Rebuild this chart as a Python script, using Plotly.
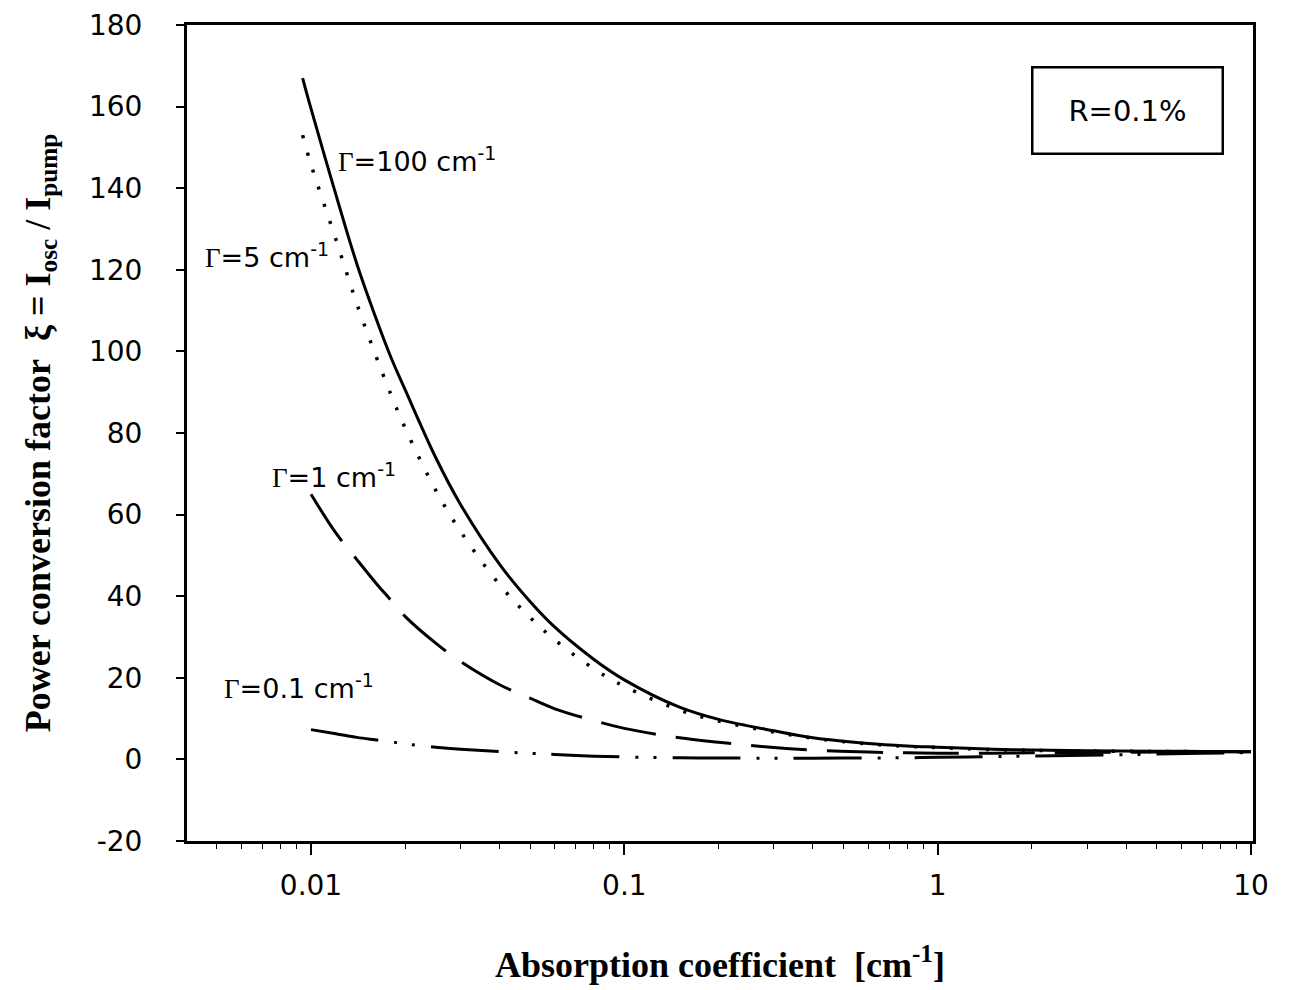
import math
import plotly.graph_objects as go

# ---- data ----
x_hi = [0.0094, 0.01, 0.012, 0.014, 0.016, 0.018, 0.02, 0.025, 0.03, 0.04, 0.05, 0.06, 0.08,
        0.1, 0.15, 0.2, 0.3, 0.4, 0.6, 0.8, 1, 1.5, 2, 3, 5, 7, 10]
gamma100 = [167, 159.5, 138.5, 121.5, 108.8, 98.5, 90.5, 74, 62.5, 47.8, 38.7, 32.4, 24.5,
            19.5, 12.8, 9.8, 7.0, 5.3, 3.9, 3.3, 3.0, 2.5, 2.3, 2.1, 2.0, 1.95, 1.9]
gamma5 = [153, 145.8, 127.5, 111.7, 99.5, 89.4, 81.1, 66.0, 55.9, 42.8, 34.8, 29.3, 22.2,
          17.9, 12.1, 9.4, 6.7, 5.2, 3.8, 3.2, 2.9, 2.4, 2.2, 2.05, 1.95, 1.9, 1.9]

x_lo = [0.01, 0.012, 0.014, 0.016, 0.018, 0.02, 0.025, 0.03, 0.04, 0.05, 0.06, 0.08,
        0.1, 0.15, 0.2, 0.3, 0.4, 0.6, 0.8, 1, 1.5, 2, 3, 5, 7, 10]
gamma1 = [65, 55.5, 49, 43.5, 39, 35, 28.5, 24, 18.3, 15, 12.4, 9.5,
          7.6, 5.3, 4.2, 2.9, 2.3, 1.8, 1.6, 1.5, 1.5, 1.6, 1.7, 1.8, 1.85, 1.9]
gamma01 = [7.3, 6.3, 5.4, 4.8, 4.3, 3.8, 3.0, 2.5, 1.9, 1.5, 1.2, 0.8,
           0.6, 0.4, 0.35, 0.3, 0.3, 0.35, 0.4, 0.5, 0.7, 0.8, 1.0, 1.3, 1.5, 1.7]

x_ticks = [0.01, 0.1, 1, 10]
x_ticklabels = ["0.01", "0.1", "1", "10"]
y_ticks = list(range(-20, 181, 20))
y_ticklabels = [str(v) for v in y_ticks]

G = '<span style="font-family:\'Liberation Serif\'">Γ</span>'
labels = [
    (G + "=100 cm<sup>-1</sup>", 0.012, 147),
    (G + "=5 cm<sup>-1</sup>", 0.00452, 123.6),
    (G + "=1 cm<sup>-1</sup>", 0.0074, 69.5),
    (G + "=0.1 cm<sup>-1</sup>", 0.00519, 17.8),
]

fig = go.Figure()
fig.add_trace(go.Scatter(x=x_hi, y=gamma100, mode="lines",
                         line=dict(color="black", width=3, shape="spline")))
fig.add_trace(go.Scatter(x=x_hi, y=gamma5, mode="lines",
                         line=dict(color="black", width=3.5, dash="3px,15px", shape="spline")))
fig.add_trace(go.Scatter(x=x_lo, y=gamma1, mode="lines",
                         line=dict(color="black", width=3, dash="56px,20px", shape="spline")))
fig.add_trace(go.Scatter(x=x_lo, y=gamma01, mode="lines",
                         line=dict(color="black", width=3,
                                   dash="68px,16px,3px,15px,3px,16px", shape="spline")))

for txt, xv, yv in labels:
    fig.add_annotation(x=math.log10(xv), y=yv, xref="x", yref="y", text=txt,
                       showarrow=False, xanchor="left", yanchor="middle",
                       font=dict(family="DejaVu Sans", size=27, color="black"))

fig.add_annotation(x=0.882, y=0.895, xref="paper", yref="paper", text="R=0.1%",
                   showarrow=False, xanchor="center", yanchor="middle",
                   width=180, height=76, borderpad=4, bordercolor="black", borderwidth=2.5,
                   bgcolor="white",
                   font=dict(family="DejaVu Sans", size=29, color="black"))

axis_common = dict(showline=True, linecolor="black", linewidth=3, mirror=True,
                   showgrid=False, zeroline=False, ticks="outside", tickcolor="black",
                   tickwidth=1.5)

fig.update_xaxes(type="log", range=[math.log10(0.00402), math.log10(10.15)],
                 tickvals=x_ticks, ticktext=x_ticklabels, ticklen=11, ticklabelstandoff=6,
                 tickfont=dict(family="DejaVu Sans", size=28, color="black"),
                 minor=dict(ticks="outside", ticklen=5, dtick="D1", tickcolor="black",
                            tickwidth=1.2, showgrid=False),
                 title=dict(text="<b>Absorption coefficient\u00a0\u00a0[cm<sup>-1</sup>]</b>",
                            font=dict(family="Liberation Serif", size=36, color="black"),
                            standoff=52),
                 **axis_common)
fig.update_yaxes(range=[-20, 180], tickvals=y_ticks, ticktext=y_ticklabels, ticklen=8,
                 ticklabelstandoff=28,
                 tickfont=dict(family="DejaVu Sans", size=28, color="black"),
                 title=dict(text="<b>Power conversion factor\u00a0\u00a0ξ = I<sub>osc</sub> / I<sub>pump</sub></b>",
                            font=dict(family="Liberation Serif", size=36, color="black"),
                            standoff=28),
                 **axis_common)

fig.update_layout(width=1290, height=982, showlegend=False,
                  paper_bgcolor="white", plot_bgcolor="white",
                  margin=dict(l=179, r=45, t=17, b=149, autoexpand=False))

fig.write_html("out.html")
